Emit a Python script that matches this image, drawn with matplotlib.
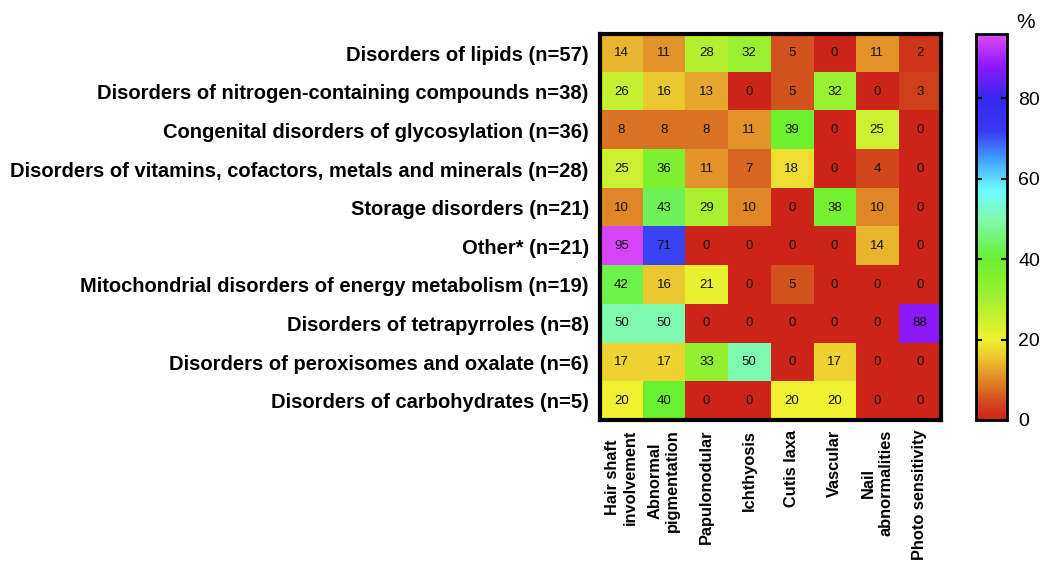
import matplotlib
matplotlib.use("Agg")
import matplotlib.pyplot as plt
import numpy as np
from matplotlib.colors import LinearSegmentedColormap

plt.rcParams['font.family'] = ['Liberation Sans', 'DejaVu Sans']

groups = [
    "Disorders of lipids (n=57)",
    "Disorders of nitrogen-containing compounds n=38)",
    "Congenital disorders of glycosylation (n=36)",
    "Disorders of vitamins, cofactors, metals and minerals (n=28)",
    "Storage disorders (n=21)",
    "Other* (n=21)",
    "Mitochondrial disorders of energy metabolism (n=19)",
    "Disorders of tetrapyrroles (n=8)",
    "Disorders of peroxisomes and oxalate (n=6)",
    "Disorders of carbohydrates (n=5)",
]
features = [
    "Hair shaft\ninvolvement",
    "Abnormal\npigmentation",
    "Papulonodular",
    "Ichthyosis",
    "Cutis laxa",
    "Vascular",
    "Nail\nabnormalities",
    "Photo sensitivity",
]
lipids = [14, 11, 28, 32, 5, 0, 11, 2]
nitrogen = [26, 16, 13, 0, 5, 32, 0, 3]
glycosylation = [8, 8, 8, 11, 39, 0, 25, 0]
vitamins = [25, 36, 11, 7, 18, 0, 4, 0]
storage = [10, 43, 29, 10, 0, 38, 10, 0]
other = [95, 71, 0, 0, 0, 0, 14, 0]
mitochondrial = [42, 16, 21, 0, 5, 0, 0, 0]
tetrapyrroles = [50, 50, 0, 0, 0, 0, 0, 88]
peroxisomes = [17, 17, 33, 50, 0, 17, 0, 0]
carbohydrates = [20, 40, 0, 0, 20, 20, 0, 0]

data = np.array([lipids, nitrogen, glycosylation, vitamins, storage,
                 other, mitochondrial, tetrapyrroles, peroxisomes, carbohydrates])

vmax = 96
nodes = [
    (0, "#cc2418"), (5, "#d4521e"), (10, "#e08a28"), (15, "#ecc030"),
    (20, "#f2f232"), (30, "#a4f030"), (40, "#68f030"), (50, "#80f8b0"),
    (57, "#70ffff"), (65, "#40a0ff"), (72, "#3838f0"), (80, "#3428f0"),
    (88, "#8a18f8"), (96, "#e048f8"),
]
cmap = LinearSegmentedColormap.from_list("rainbow_pct", [(v / vmax, c) for v, c in nodes])

fig = plt.figure(figsize=(10.5, 5.7), dpi=100)
ax = fig.add_axes([0.5714, 0.2632, 0.3248, 0.6772])
im = ax.imshow(data, cmap=cmap, vmin=0, vmax=vmax, aspect='auto')

for i in range(data.shape[0]):
    for j in range(data.shape[1]):
        ax.text(j, i, str(data[i, j]), ha='center', va='center', fontsize=9.5, color='#111111')

ax.set_yticks(range(len(groups)))
ax.set_yticklabels(groups, fontsize=14.5, fontweight='bold')
ax.set_xticks(range(len(features)))
ax.set_xticklabels(features, rotation=90, fontsize=11.8, fontweight='bold',
                   multialignment='center', va='top')
ax.tick_params(axis='y', length=0, pad=8)
ax.tick_params(axis='x', length=0, pad=7)
for s in ax.spines.values():
    s.set_linewidth(3)

cax = fig.add_axes([0.9295, 0.2632, 0.0295, 0.6772])
cb = fig.colorbar(im, cax=cax, ticks=[0, 20, 40, 60, 80])
cb.outline.set_linewidth(2)
cax.tick_params(labelsize=14, direction='in', length=4, width=1.5, left=True, right=True, pad=8)
cax.set_title("%", fontsize=15, loc='left', x=1.3, pad=4)

fig.savefig("out.png", dpi=100)
